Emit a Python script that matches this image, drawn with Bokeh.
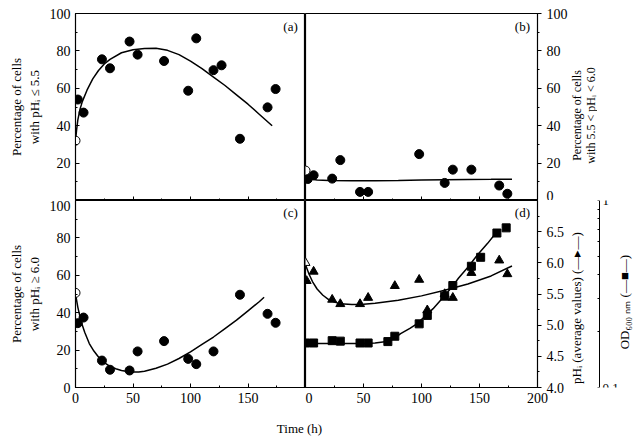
import math
from bokeh.plotting import figure
from bokeh.models import (LinearAxis, LogAxis, Range1d, FixedTicker, Label,
                          LogScale, NumeralTickFormatter, CustomLabelingPolicy)
from bokeh.layouts import column, row
from bokeh.embed import file_html
from bokeh.resources import INLINE

FONT = "Liberation Serif"

# ---------------- data ----------------
# panel (a): % cells with pHi <= 5.5
a_open_t = [0]
a_open_v = [32]
a_t = [2, 7, 23, 30, 47, 54, 77, 98, 105, 120, 127, 143, 167, 174]
a_v = [54, 47, 75.5, 70.7, 85, 78, 74.6, 58.7, 86.7, 69.7, 72.3, 33, 49.8, 59.6]
a_fit_t = [0, 1, 2, 4, 6, 10, 15, 20, 25, 30, 40, 50, 60, 70, 80, 90, 100, 110, 120, 130, 140, 150, 160, 171]
a_fit_v = [32, 38, 43, 49, 53, 59, 65, 69.5, 73, 75.5, 79, 80.6, 81.3, 81.4, 80.3, 78, 74.5, 70.5, 66, 61.5, 56.5, 51.5, 46, 40]

# panel (b): % cells with 5.5 < pHi < 6.0
b_open_t = [0]
b_open_v = [16]
b_t = [2, 7, 23, 30, 47, 54, 98, 120, 127, 143, 167, 174]
b_v = [11.5, 13.5, 11.7, 21.6, 4.6, 4.6, 24.8, 9.4, 16.5, 16.5, 8, 3.6]
b_fit_t = [0, 1, 2, 4, 7, 10, 20, 40, 60, 80, 100, 120, 140, 160, 178]
b_fit_v = [15, 13.5, 12.5, 11.8, 11.2, 11, 10.7, 10.6, 10.6, 10.7, 10.9, 11.1, 11.2, 11.3, 11.4]

# panel (c): % cells with pHi >= 6.0
c_open_t = [0]
c_open_v = [50.6]
c_t = [2, 7, 23, 30, 47, 54, 77, 98, 105, 120, 143, 167, 174]
c_v = [34.4, 37.4, 14.4, 9.5, 9.1, 19.3, 24.8, 15.3, 12.5, 19.3, 49.6, 39.4, 34.6]
c_fit_t = [0, 2, 5, 8, 12, 16, 20, 25, 30, 35, 40, 45, 50, 55, 60, 70, 80, 90, 100, 110, 120, 130, 140, 150, 160, 164]
c_fit_v = [50, 43, 35, 29.5, 23.5, 19.5, 16.3, 13.3, 11.3, 10, 9.1, 8.6, 8.3, 8.3, 8.7, 10.3, 12.5, 15.5, 19, 23, 27, 31.5, 36, 41, 46, 48.3]

# panel (d): pHi (triangles) and OD600 (squares)
d_ph_open_t = [0]
d_ph_open_v = [6.0]
d_ph_t = [1, 7, 23, 30, 47, 54, 77, 98, 105, 120, 127, 143, 167, 174]
d_ph_v = [5.71, 5.86, 5.41, 5.34, 5.34, 5.44, 5.63, 5.73, 5.24, 5.5, 5.44, 5.84, 6.04, 5.82]
d_ph_fit_t = [0, 3, 6, 10, 15, 20, 25, 30, 40, 50, 60, 80, 100, 120, 140, 160, 178]
d_ph_fit_v = [5.97, 5.82, 5.7, 5.58, 5.48, 5.41, 5.37, 5.345, 5.33, 5.335, 5.35, 5.4, 5.47, 5.56, 5.66, 5.79, 5.95]
d_od_t = [0, 7, 23, 30, 47, 54, 71, 77, 98, 105, 120, 127, 143, 151, 165, 173]
d_od_v = [0.173, 0.173, 0.178, 0.177, 0.173, 0.173, 0.176, 0.188, 0.219, 0.243, 0.308, 0.351, 0.445, 0.497, 0.67, 0.714]
d_od_fit_t = [0, 30, 50, 60, 70, 76, 82, 90, 96, 103, 110, 118, 125, 132, 140, 148, 157, 165]
d_od_fit_v = [0.172, 0.172, 0.172, 0.173, 0.176, 0.182, 0.194, 0.207, 0.219, 0.24, 0.264, 0.3, 0.337, 0.385, 0.44, 0.51, 0.59, 0.68]

x_ticks_all = [0, 50, 100, 150, 200]
x_ticks_left = [0, 50, 100, 150]
x_minor = [25, 75, 125, 175]
pct_ticks = [0, 20, 40, 60, 80, 100]
pct_ticks_top = [20, 40, 60, 80, 100]
pct_minor = [10, 30, 50, 70, 90]
ph_ticks = [4.0, 4.5, 5.0, 5.5, 6.0, 6.5]
ph_minor = [4.25, 4.75, 5.25, 5.75, 6.25, 6.75]
od_ticks = [0.1, 1]
od_minor = [0.2, 0.3, 0.4, 0.5, 0.6, 0.7, 0.8, 0.9]

label_a = "Percentage of cells\nwith pHᵢ ≤ 5.5"
label_b = "Percentage of cells\nwith 5.5 < pHᵢ < 6.0"
label_c = "Percentage of cells\nwith pHᵢ ≥ 6.0"
label_ph = "pHᵢ (average values)  (—▸—)"
label_od = "OD₆₀₀ ₙₘ  (—■—)"
label_time = "Time (h)"

FW_L, FW_R, FH = 230, 232, 187
TOP, BOT = 13, 22
RB = 31          # right border of panels (b) and (d) for their tick labels
STRIP = 27       # strip holding the rotated right-hand titles
OD_W = 38        # width of the OD600 axis strip
TICK_FS = "14px"
LAB_FS = "13px"


def clean(p):
    p.grid.visible = False
    p.background_fill_color = "white"
    p.border_fill_color = "white"
    p.min_border_left = 0
    p.min_border_right = 0
    p.min_border_top = 0
    p.min_border_bottom = 0
    return p


def base(fw, **kw):
    p = figure(frame_width=fw, frame_height=FH, output_backend="svg",
               toolbar_location=None, x_axis_location=None, y_axis_location=None, **kw)
    clean(p)
    p.outline_line_color = "black"
    p.outline_line_width = 1.2
    return p


def style(ax, tin, tout):
    ax.major_tick_in = tin
    ax.major_tick_out = tout
    ax.minor_tick_in = 2 if tin else 0
    ax.minor_tick_out = 2 if tout else 0
    ax.axis_line_color = "black"
    ax.major_tick_line_color = "black"
    ax.minor_tick_line_color = "black"
    ax.major_label_text_font = FONT
    ax.major_label_text_font_size = TICK_FS
    ax.major_label_text_color = "black"
    ax.axis_label_text_font = FONT
    ax.axis_label_text_font_size = LAB_FS
    ax.axis_label_text_font_style = "normal"
    ax.axis_label_text_color = "black"


def hidden_label_axis():
    # ticks only (labels suppressed), drawn on the frame edge without taking border space
    ax = LinearAxis(ticker=FixedTicker(ticks=x_ticks_all, minor_ticks=x_minor),
                    fixed_location=0,
                    major_label_policy=CustomLabelingPolicy(code="return []"))
    style(ax, 4, 0)
    return ax


def text(p, x, y, txt, angle=0, y_range_name="default", lh=1.2, size=LAB_FS):
    p.add_layout(Label(x=x, y=y, text=txt, text_font=FONT, text_font_size=size,
                       text_color="black", text_align="center", text_baseline="middle",
                       angle=angle, y_range_name=y_range_name, text_line_height=lh))


def label_fig(w, h, x, y, txt, lh=1.2, size=LAB_FS):
    # narrow strip holding a rotated axis title (reads bottom to top)
    f = figure(frame_width=w, frame_height=h, x_range=Range1d(0, w), y_range=Range1d(0, h),
               output_backend="svg", toolbar_location=None,
               x_axis_location=None, y_axis_location=None)
    clean(f)
    f.outline_line_color = None
    text(f, x, y, txt, angle=math.pi / 2, lh=lh, size=size)
    return f


def dots(p, t, v, fill="black", marker="circle", size=9, **kw):
    p.scatter(t, v, marker=marker, size=size, fill_color=fill, line_color="black",
              line_width=1, **kw)


# ---------------- panel (a) ----------------
pa = base(FW_L, x_range=Range1d(0, 200), y_range=Range1d(0, 100))
pa.min_border_left = 75
pa.min_border_top = TOP
ax = LinearAxis(ticker=FixedTicker(ticks=pct_ticks_top, minor_ticks=pct_minor),
                axis_label=label_a)
style(ax, 4, 0)
pa.add_layout(ax, "left")
pa.add_layout(hidden_label_axis(), "below")
pa.line(a_fit_t, a_fit_v, line_color="black", line_width=1.5)
dots(pa, a_t, a_v)
dots(pa, a_open_t, a_open_v, fill="white")
text(pa, 187, 93, "(a)")

# ---------------- panel (b) ----------------
pb = base(FW_R, x_range=Range1d(0, 200), y_range=Range1d(0, 100))
pb.min_border_right = RB
pb.min_border_top = TOP
ax = LinearAxis(ticker=FixedTicker(ticks=pct_ticks, minor_ticks=pct_minor))
style(ax, 0, 4)
pb.add_layout(ax, "right")
pb.add_layout(hidden_label_axis(), "below")
pb.line(b_fit_t, b_fit_v, line_color="black", line_width=1.5)
dots(pb, b_t, b_v)
dots(pb, b_open_t, b_open_v, fill="white")
text(pb, 187, 93, "(b)")
pb_lab = label_fig(STRIP, TOP + FH, 13, 98, label_b, lh=1.0, size="12px")

# ---------------- panel (c) ----------------
pc = base(FW_L, x_range=Range1d(0, 200), y_range=Range1d(0, 100))
pc.min_border_left = 75
pc.min_border_bottom = BOT
ax = LinearAxis(ticker=FixedTicker(ticks=pct_ticks, minor_ticks=pct_minor),
                axis_label=label_c)
style(ax, 4, 0)
pc.add_layout(ax, "left")
ax = LinearAxis(ticker=FixedTicker(ticks=x_ticks_left, minor_ticks=x_minor))
style(ax, 4, 0)
pc.add_layout(ax, "below")
pc.line(c_fit_t, c_fit_v, line_color="black", line_width=1.5)
dots(pc, c_t, c_v)
dots(pc, c_open_t, c_open_v, fill="white")
text(pc, 187, 93.5, "(c)")

# ---------------- panel (d) ----------------
od_range = Range1d(0.1, 1)
pd_ = base(FW_R, x_range=Range1d(0, 200), y_range=Range1d(4.0, 7.0),
           extra_y_ranges={"od": od_range},
           extra_y_scales={"od": LogScale()})
pd_.min_border_right = RB
pd_.min_border_bottom = BOT
ax = LinearAxis(ticker=FixedTicker(ticks=x_ticks_all, minor_ticks=x_minor))
style(ax, 4, 0)
pd_.add_layout(ax, "below")
ax = LinearAxis(ticker=FixedTicker(ticks=ph_ticks, minor_ticks=ph_minor),
                formatter=NumeralTickFormatter(format="0.0"))
style(ax, 0, 4)
pd_.add_layout(ax, "right")
pd_.line(d_ph_fit_t, d_ph_fit_v, line_color="black", line_width=1.5)
pd_.line(d_od_fit_t, d_od_fit_v, line_color="black", line_width=1.5, y_range_name="od")
dots(pd_, d_od_t, d_od_v, marker="square", size=8, y_range_name="od")
dots(pd_, d_ph_t, d_ph_v, marker="triangle", size=9)
dots(pd_, d_ph_open_t, d_ph_open_v, marker="triangle", size=9, fill="white")
text(pd_, 187, 6.81, "(d)")
pd_lab = label_fig(STRIP, FH + BOT, 8, 103, label_ph)

# ---------------- OD600 axis (log): same range object as the squares ----------------
# tall strip (frame level with panel (d)); the axis sits at a fixed place inside it
pod = figure(frame_width=OD_W, frame_height=FH, x_range=Range1d(0, OD_W), y_range=od_range,
             y_axis_type="log", output_backend="svg", toolbar_location=None,
             x_axis_location=None, y_axis_location=None)
clean(pod)
pod.outline_line_color = None
pod.min_border_top = TOP + FH
pod.min_border_bottom = BOT
ax = LogAxis(ticker=FixedTicker(ticks=od_ticks, minor_ticks=od_minor),
             major_label_overrides={0.1: "0.1", 1: "1"}, fixed_location=2)
style(ax, 5, 0)
ax.minor_tick_in = 3
ax.major_label_standoff = 3
ax.major_label_text_font_size = LAB_FS
pod.add_layout(ax, "right")
text(pod, 27, 0.292, label_od, angle=math.pi / 2)

# ---------------- x title ----------------
W_ALL = 75 + FW_L + FW_R + RB + STRIP + OD_W
pt = figure(width=W_ALL, height=30, x_range=Range1d(0, W_ALL), y_range=Range1d(0, 30),
            output_backend="svg", toolbar_location=None,
            x_axis_location=None, y_axis_location=None)
clean(pt)
pt.outline_line_color = None
text(pt, 299, 11, label_time)

panels = column(row(pa, pb, pb_lab), row(pc, pd_, pd_lab))
lay = column(row(panels, pod), pt)

with open("out.html", "w") as f:
    f.write(file_html(lay, INLINE))
